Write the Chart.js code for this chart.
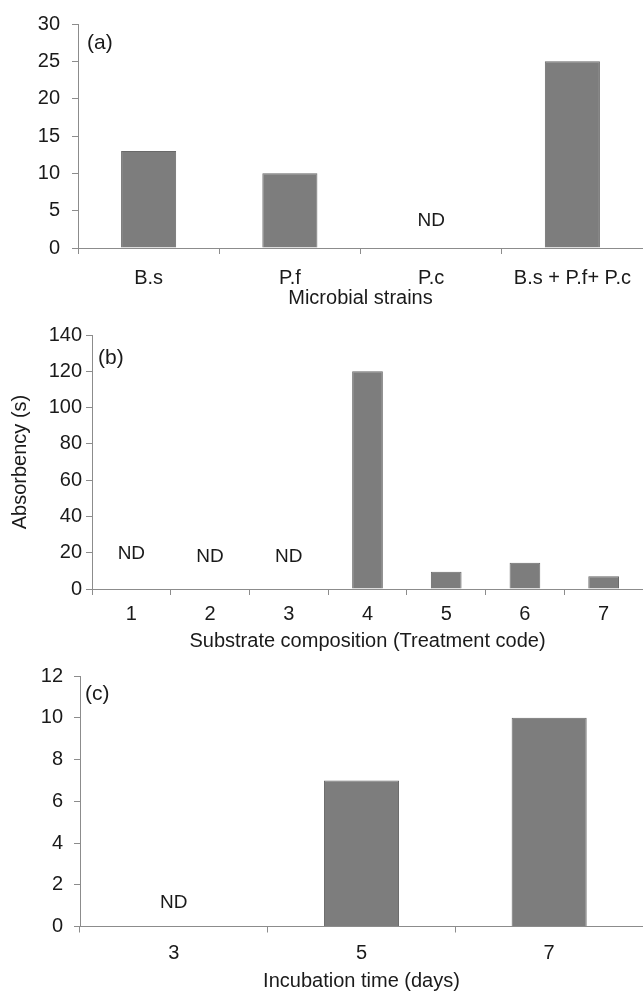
<!DOCTYPE html>
<html>
<head>
<meta charset="utf-8">
<script src="https://cdn.jsdelivr.net/npm/chart.js@4"></script>
<style>
  html, body { margin: 0; padding: 0; background: #fff; }
  body { width: 643px; height: 992px; position: relative; overflow: hidden; }
  .panel { position: absolute; left: 0; width: 643px; }
  #pa { top: 0; height: 310px; }
  #pb { top: 310px; height: 343px; }
  #pc { top: 653px; height: 340px; }
</style>
</head>
<body>
<div class="panel" id="pa"><canvas id="chartA"></canvas></div>
<div class="panel" id="pb"><canvas id="chartB"></canvas></div>
<div class="panel" id="pc"><canvas id="chartC"></canvas></div>
<script>
// panel (a)
const strains = ['B.s', 'P.f', 'P.c', 'B.s + P.f+ P.c'];
const strainValues = [13, 10, null, 25];
const strainND = [null, null, 3.6, null];
const strainTicks = [0, 5, 10, 15, 20, 25, 30];

// panel (b)
const treatments = ['1', '2', '3', '4', '5', '6', '7'];
const treatmentValues = [null, null, null, 120, 9.5, 14.5, 7];
const treatmentND = [19.5, 17.5, 17.5, null, null, null, null];
const treatmentTicks = [0, 20, 40, 60, 80, 100, 120, 140];

// panel (c)
const days = ['3', '5', '7'];
const dayValues = [null, 7, 10];
const dayND = [1.15, null, null];
const dayTicks = [0, 2, 4, 6, 8, 10, 12];

const FONT = "'Liberation Sans', Arial, sans-serif";
const AXIS = '#8c8c8c';
const TEXT = '#1a1a1a';

// writes "ND" over the empty categories and the panel letter in the corner
const notesPlugin = {
  id: 'notes',
  afterDraw(chart, args, opts) {
    const ctx = chart.ctx;
    const x = chart.scales.x, y = chart.scales.y;
    ctx.save();
    ctx.fillStyle = TEXT;
    ctx.font = '19px ' + FONT;
    ctx.textAlign = 'center';
    ctx.textBaseline = 'middle';
    opts.nd.forEach((v, i) => {
      if (v !== null) ctx.fillText('ND', x.getPixelForValue(i), y.getPixelForValue(v));
    });
    ctx.font = '21px ' + FONT;
    ctx.textAlign = 'left';
    ctx.fillText(opts.tag, chart.chartArea.left + opts.tagDx, chart.chartArea.top + opts.tagDy);
    ctx.restore();
  }
};

function makeChart(id, cfg) {
  new Chart(document.getElementById(id), {
    type: 'bar',
    data: {
      labels: cfg.labels,
      datasets: [{
        data: cfg.values,
        backgroundColor: '#7d7d7d',
        borderColor: '#696969',
        borderWidth: 1,
        categoryPercentage: 1,
        barPercentage: cfg.barPct
      }]
    },
    plugins: [notesPlugin],
    options: {
      responsive: true,
      maintainAspectRatio: false,
      animation: false,
      layout: { padding: { top: cfg.top, left: 0, right: 0, bottom: 0 } },
      plugins: {
        legend: { display: false },
        tooltip: { enabled: false },
        notes: { nd: cfg.nd, tag: cfg.tag, tagDx: cfg.tagDx, tagDy: cfg.tagDy }
      },
      scales: {
        x: {
          grid: { display: true, drawOnChartArea: false, offset: true, color: AXIS, tickLength: 6 },
          border: { color: AXIS, width: 1 },
          ticks: { color: TEXT, font: { family: FONT, size: 20 }, padding: cfg.xPad, maxRotation: 0 },
          title: { display: true, text: cfg.xTitle, color: TEXT, font: { family: FONT, size: 20 }, padding: { top: 0, bottom: 0 } },
          afterFit: s => { s.height = cfg.xHeight; }
        },
        y: {
          min: 0,
          max: cfg.yTicks[cfg.yTicks.length - 1],
          afterBuildTicks: s => { s.ticks = cfg.yTicks.map(v => ({ value: v })); },
          grid: { display: true, drawOnChartArea: false, color: AXIS, tickLength: 6 },
          border: { color: AXIS, width: 1 },
          ticks: { color: TEXT, font: { family: FONT, size: 20 }, padding: cfg.yPad },
          title: cfg.yTitle
            ? { display: true, text: cfg.yTitle, color: TEXT, font: { family: FONT, size: 20 }, padding: { top: 8, bottom: 0 } }
            : { display: false },
          afterFit: s => { s.width = cfg.yWidth; }
        }
      }
    }
  });
}

makeChart('chartA', {
  labels: strains, values: strainValues, nd: strainND, tag: '(a)', tagDx: 9, tagDy: 19,
  yTicks: strainTicks, barPct: 0.39,
  xTitle: 'Microbial strains', top: 23.5, xHeight: 62, xPad: 12, yWidth: 78, yPad: 12
});

makeChart('chartB', {
  labels: treatments, values: treatmentValues, nd: treatmentND, tag: '(b)', tagDx: 6, tagDy: 23,
  yTicks: treatmentTicks, barPct: 0.39, yTitle: 'Absorbency (s)',
  xTitle: 'Substrate composition (Treatment code)', top: 25, xHeight: 64, xPad: 7, yWidth: 92, yPad: 4
});

makeChart('chartC', {
  labels: days, values: dayValues, nd: dayND, tag: '(c)', tagDx: 5, tagDy: 18,
  yTicks: dayTicks, barPct: 0.40,
  xTitle: 'Incubation time (days)', top: 17, xHeight: 66.5, xPad: 9, yWidth: 80, yPad: 11
});
</script>
</body>
</html>
